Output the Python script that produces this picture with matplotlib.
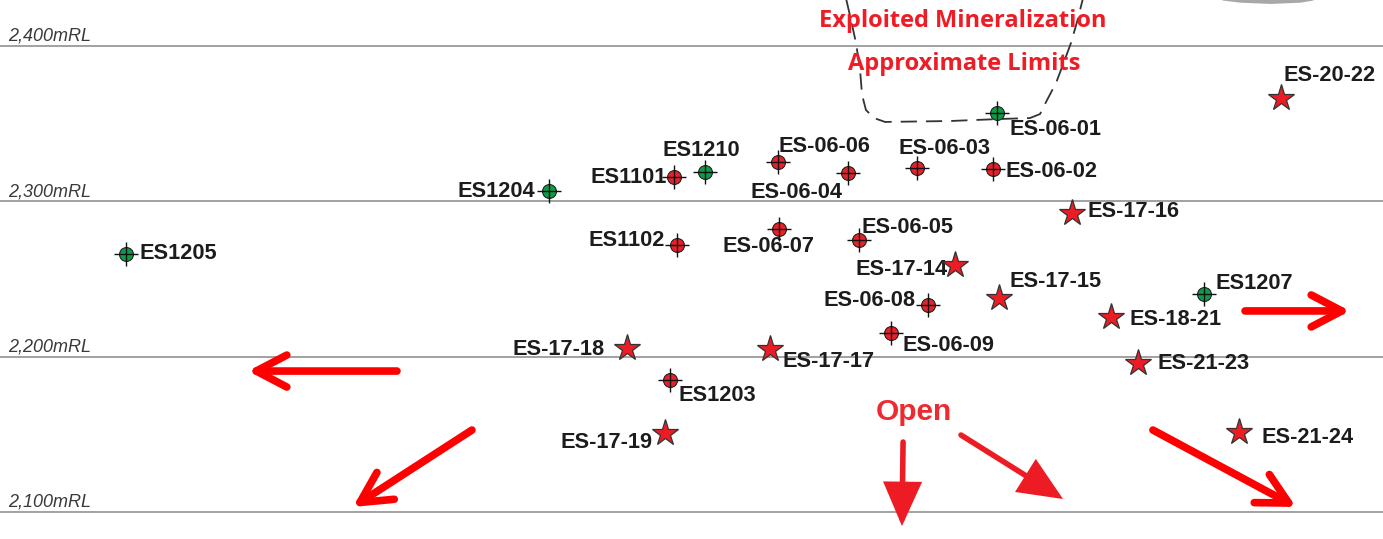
import matplotlib.pyplot as plt
from matplotlib.patches import FancyArrowPatch, ArrowStyle

# section scale of the original drawing (pixels per metre)
PX = 1.553

levels = [2100, 2200, 2300, 2400]
level_labels = ["2,100mRL", "2,200mRL", "2,300mRL", "2,400mRL"]

# historic holes (green)
green_names = ["ES1205", "ES1204", "ES1210", "ES-06-01", "ES1207"]
green_x = [81.1, 353.5, 454.0, 642.0, 775.3]
green_rl = [2266.1, 2306.6, 2318.9, 2356.9, 2240.3]

# mineralised intercepts (red circles)
red_names = ["ES1101", "ES1102", "ES-06-06", "ES-06-04", "ES-06-03", "ES-06-02",
             "ES-06-07", "ES-06-05", "ES-06-08", "ES-06-09", "ES1203"]
red_x = [434.0, 435.9, 501.0, 546.0, 590.5, 639.4, 501.6, 553.1, 597.6, 573.7, 431.4]
red_rl = [2315.6, 2271.9, 2325.3, 2318.2, 2321.4, 2320.8, 2282.2, 2275.1, 2233.2, 2215.2, 2184.9]

# recent drilling (stars)
star_names = ["ES-20-22", "ES-17-16", "ES-17-14", "ES-17-15", "ES-18-21",
              "ES-21-23", "ES-21-24", "ES-17-18", "ES-17-17", "ES-17-19"]
star_x = [824.9, 690.3, 614.9, 643.3, 715.4, 732.8, 797.8, 403.7, 495.8, 428.2]
star_rl = [2366.5, 2292.5, 2259.0, 2237.7, 2225.5, 2195.9, 2151.4, 2205.5, 2204.9, 2150.8]

# exploited mineralization outline (dashed)
outline_x = [544.7, 548.0, 551.2, 553.8, 555.1, 557.6, 562.8, 569.9, 611.7, 643.9,
             663.2, 669.7, 674.2, 680.0, 685.1, 689.6, 693.5, 697.4]
outline_rl = [2430.9, 2416.7, 2401.9, 2384.5, 2368.5, 2358.8, 2353.6, 2351.1, 2351.7, 2353.0,
              2353.6, 2356.2, 2365.2, 2376.2, 2389.7, 2401.9, 2415.5, 2430.9]

# grey shape cut by the top edge
shape_x = [786.9, 798.5, 817.8, 837.1, 845.5]
shape_rl = [2429.6, 2428.2, 2427.4, 2428.2, 2429.6]

# open directions: (tail, tip, filled head?)
arrows = [
    ((255.6, 2190.7), (159.7, 2190.7), False),
    ((303.9, 2152.7), (227.3, 2103.2), False),
    ((801.7, 2229.4), (869.3, 2229.4), False),
    ((581.5, 2145.0), (580.8, 2090.9), True),
    ((618.8, 2149.5), (684.5, 2108.3), True),
    ((742.4, 2152.7), (834.5, 2103.2), False),
]

# label placement, pixels from marker: dx, dy, ha
offsets = {
    "ES1205": (14, 0, "left"), "ES1204": (-14, 0, "right"), "ES1210": (-4, 21, "center"),
    "ES-06-01": (12, -17, "left"), "ES1207": (11, 11, "left"),
    "ES1101": (-7, 0, "right"), "ES1102": (-12, 4, "right"), "ES-06-06": (0, 16, "left"),
    "ES-06-04": (-5, -19, "right"), "ES-06-03": (-19, 20, "left"), "ES-06-02": (13, -3, "left"),
    "ES-06-07": (-56, -18, "left"), "ES-06-05": (3, 12, "left"), "ES-06-08": (-13, 5, "right"),
    "ES-06-09": (12, -13, "left"), "ES1203": (9, -15, "left"),
    "ES-20-22": (2, 23, "left"), "ES-17-16": (15, 1, "left"), "ES-17-14": (-7, -5, "right"),
    "ES-17-15": (10, 17, "left"), "ES-18-21": (18, -3, "left"), "ES-21-23": (19, -1, "left"),
    "ES-21-24": (23, -5, "left"), "ES-17-18": (-22, -1, "right"), "ES-17-17": (13, -13, "left"),
    "ES-17-19": (-12, -9, "right"),
}

fig = plt.figure(figsize=(13.83, 5.39), dpi=100)
ax = fig.add_axes([0, 0, 1, 1])
ax.set_xlim(0, 1383 / PX)
ax.set_ylim(2400 - (539 - 46) / PX, 2400 + 46 / PX)
ax.axis("off")

for lv, lab in zip(levels, level_labels):
    ax.axhline(lv, color="#9a9a9a", lw=1.3, zorder=1)
    ax.text(0.006, lv + 0.8, lab, transform=ax.get_yaxis_transform(), ha="left", va="bottom",
            fontsize=13, style="italic", family="Liberation Sans", color="#3a3a3a")

ax.fill_between(shape_x, shape_rl, 2432, color="#a8a8a8", lw=0, zorder=1)

ax.plot(outline_x, outline_rl, color="#333333", lw=1.3, dashes=(9, 5), zorder=2)

for tail, tip, filled in arrows:
    if filled:
        style = ArrowStyle("-|>", head_length=25, head_width=11)
        arr = FancyArrowPatch(tail, tip, arrowstyle=style, mutation_scale=1, lw=4,
                              color="#ed1c24", shrinkA=0, shrinkB=0, joinstyle="miter", zorder=3)
    else:
        style = ArrowStyle("->", head_length=22, head_width=11.5)
        arr = FancyArrowPatch(tail, tip, arrowstyle=style, mutation_scale=1, lw=5.5,
                              color="#ff0000", shrinkA=0, shrinkB=0, capstyle="round",
                              joinstyle="round", zorder=3)
    ax.add_patch(arr)

ax.text(620.1, 2416.1, "Exploited Mineralization", ha="center", va="center",
        fontsize=17, fontweight="bold", family="Open Sans", color="#ee1c25")
ax.text(620.7, 2388.4, "Approximate Limits", ha="center", va="center",
        fontsize=17, fontweight="bold", family="Open Sans", color="#ee1c25")
ax.text(588.5, 2164.3, "Open", ha="center", va="center",
        fontsize=21.5, fontweight="bold", family="Liberation Sans", color="#ee2a30")

# markers
ax.plot(red_x, red_rl, "o", ms=10, mfc="#e8202a", mec="#222222", mew=0.8, ls="none", zorder=5)
ax.plot(green_x, green_rl, "o", ms=10, mfc="#0f9a48", mec="#222222", mew=0.8, ls="none", zorder=5)
ax.plot(red_x + green_x, red_rl + green_rl, "+", ms=17, color="#111111", mew=1.0, ls="none", zorder=6)
ax.plot(star_x, star_rl, "*", ms=20, mfc="#ed1c24", mec="#333333", mew=0.9, ls="none", zorder=5)

for names, xs, ys in [(green_names, green_x, green_rl), (red_names, red_x, red_rl),
                      (star_names, star_x, star_rl)]:
    for n, x, y in zip(names, xs, ys):
        dx, dy, ha = offsets[n]
        ax.annotate(n, (x, y), xytext=(dx, dy), textcoords="offset pixels", ha=ha, va="center",
                    fontsize=15.7, fontweight="bold", family="Liberation Sans", color="#1c1c1c",
                    zorder=4)

fig.savefig("out.png", dpi=100)
